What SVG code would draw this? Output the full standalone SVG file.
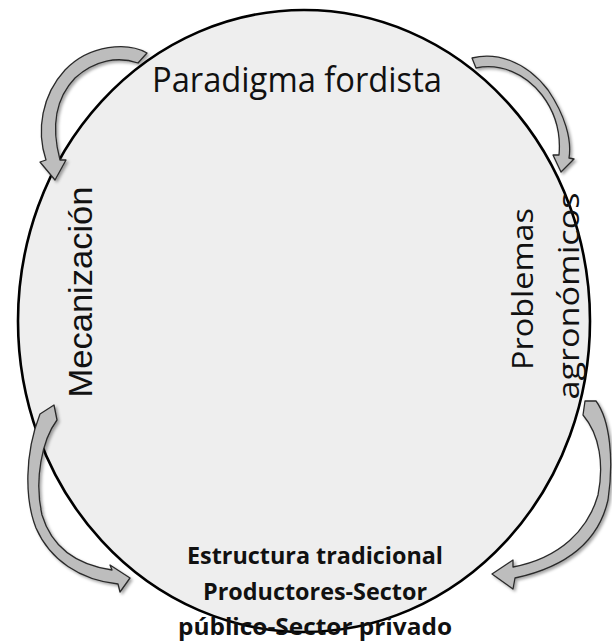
<svg xmlns="http://www.w3.org/2000/svg" width="612" height="641" viewBox="0 0 612 641">
  <style>
    .arrow { fill: #bdbdbd; stroke: #2a2a2a; stroke-width: 1.3; stroke-linejoin: round; filter: url(#sh); }
    .lbl { font-family: "Open Sans", "Liberation Sans", sans-serif; fill: #111; }
    .side { font-family: "Liberation Sans", Arial, sans-serif; fill: #111; }
    .bold { font-family: "Open Sans", "Liberation Sans", sans-serif; font-weight: bold; fill: #111; }
  </style>
  <defs>
    <filter id="sh" x="-30%" y="-30%" width="160%" height="160%">
      <feDropShadow dx="2" dy="2" stdDeviation="1.5" flood-color="#000" flood-opacity="0.35"/>
    </filter>
  </defs>
  <rect width="612" height="641" fill="#ffffff"/>
  <g id="cycle">
    <ellipse cx="304" cy="321" rx="286" ry="311" fill="#eeeeee" stroke="#000" stroke-width="2.6"/>
  </g>
  <g id="connectors">
    <path class="arrow" d="M147,53 C128,42 90,44 65,70 C42,95 36,130 46,160 L40,162 L55,180 L66,160 L60,160 C52,130 54,100 75,78 C95,60 118,56 138,63 Z"/>
    <path class="arrow" d="M472,58 C495,52 525,60 548,90 C565,115 572,140 569,158 L574,159 L561,172 L553,155 L559,155 C561,133 555,112 542,95 C525,73 500,63 476,68 Z"/>
    <path class="arrow" d="M40,414 L54,405 L57,420 C42,440 34,480 42,515 C52,548 78,565 112,570 L110,565 L130,578 L120,592 L118,584 C80,580 50,560 36,528 C25,500 24,455 40,414 Z"/>
    <path class="arrow" d="M585,401 L596,401 C610,420 614,460 608,500 C600,535 575,565 515,578 L513,589 L492,574 L513,560 L513,567 C560,558 588,530 598,495 C604,465 600,435 583,415 Z"/>
  </g>
  <g id="paradigma">
    <text class="lbl" x="297" y="92" font-size="35" text-anchor="middle" textLength="290" lengthAdjust="spacingAndGlyphs">Paradigma fordista</text>
  </g>
  <g id="mecanizacion">
    <text class="side" transform="translate(92,292) rotate(-90)" font-size="34" text-anchor="middle" textLength="211" lengthAdjust="spacingAndGlyphs">Mecanización</text>
  </g>
  <g id="problemas">
    <text class="lbl" transform="translate(533,289) rotate(-90)" font-size="29" text-anchor="middle" textLength="162" lengthAdjust="spacingAndGlyphs">Problemas</text>
    <text class="lbl" transform="translate(579,296) rotate(-90)" font-size="29" text-anchor="middle" textLength="207" lengthAdjust="spacingAndGlyphs">agronómicos</text>
  </g>
  <g id="estructura">
    <text class="bold" x="315" y="564" font-size="24" text-anchor="middle" textLength="256" lengthAdjust="spacingAndGlyphs">Estructura tradicional</text>
    <text class="bold" x="315" y="600" font-size="24" text-anchor="middle" textLength="224" lengthAdjust="spacingAndGlyphs">Productores-Sector</text>
    <text class="bold" x="315" y="635" font-size="24" text-anchor="middle" textLength="274" lengthAdjust="spacingAndGlyphs">público-Sector privado</text>
  </g>
</svg>
